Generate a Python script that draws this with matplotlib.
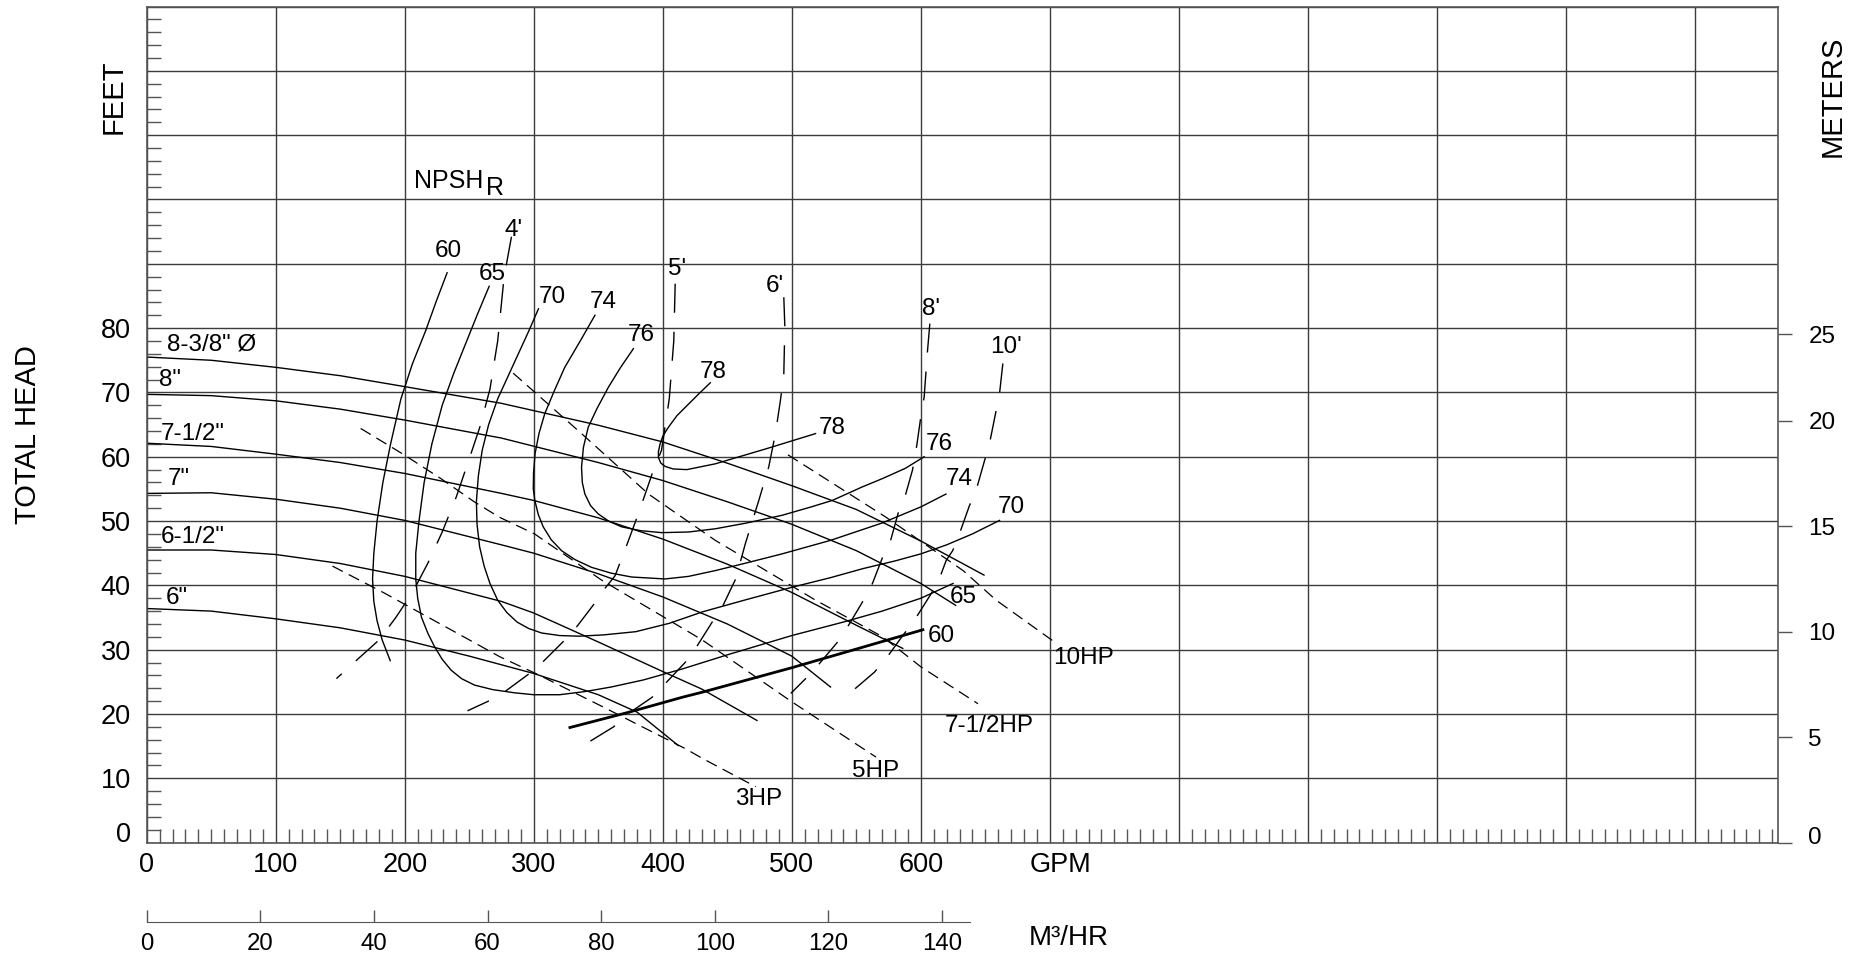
import numpy as np
import matplotlib.pyplot as plt
from matplotlib.ticker import MultipleLocator, FuncFormatter

plt.rcParams['font.family'] = ['Liberation Sans', 'DejaVu Sans']
plt.rcParams['lines.scale_dashes'] = False

# --- impeller head curves (GPM, feet) ---
d838_q = [0, 50, 100, 150, 200, 275, 350, 400, 450, 500, 550, 600, 649]
d838_h = [75.5, 75.0, 73.9, 72.6, 70.9, 68.3, 64.9, 62.3, 59.0, 55.5, 51.8, 46.9, 41.6]
d8_q = [0, 50, 100, 150, 200, 275, 350, 400, 450, 500, 550, 600, 627]
d8_h = [69.7, 69.5, 68.7, 67.4, 65.7, 62.9, 59.1, 56.3, 53.0, 49.5, 45.4, 40.3, 36.9]
d712_q = [0, 50, 100, 150, 200, 275, 300, 350, 400, 450, 500, 550, 586]
d712_h = [62.1, 61.6, 60.4, 59.1, 57.4, 54.3, 53.2, 50.5, 47.2, 43.3, 38.9, 33.8, 30.2]
d7_q = [0, 50, 100, 150, 200, 275, 300, 350, 400, 450, 500, 530]
d7_h = [54.3, 54.4, 53.4, 52.0, 50.1, 46.3, 45.0, 41.8, 38.2, 34.0, 29.0, 24.2]
d612_q = [0, 50, 100, 150, 200, 275, 300, 350, 400, 430, 473]
d612_h = [45.5, 45.5, 44.8, 43.4, 41.4, 37.5, 35.7, 31.2, 26.6, 23.9, 19.0]
d6_q = [0, 50, 100, 150, 200, 250, 300, 350, 380, 412]
d6_h = [36.4, 36.0, 34.8, 33.4, 31.5, 29.0, 26.3, 23.0, 20.3, 15.1]

head_labels = ['8-3/8" Ø', '8"', '7-1/2"', '7"', '6-1/2"', '6"']
head_label_x = [15.5, 9.8, 10.9, 16, 10.9, 15]
head_label_y = [77.4, 71.9, 63.6, 56.6, 47.6, 38.1]

# --- efficiency contours (%) ---
e60a_q = [232.8, 225, 216, 206, 197, 189, 183, 178.5, 176, 175, 176, 178.5, 182.5, 188.7]
e60a_h = [88.6, 84.5, 79.5, 74.5, 69.0, 62.0, 56.0, 50.0, 45.0, 41.0, 37.5, 34.5, 31.5, 28.3]
e60b_q = [328, 372.2, 415, 430.7, 500, 550, 601.6]
e60b_h = [17.9, 20.2, 22.6, 23.4, 27.2, 30.1, 33.1]
e65_q = [265.4, 256, 247, 238, 229, 221, 215, 211, 208.5, 208.5, 210, 213, 218, 223, 229,
         236, 244, 254, 268, 285, 300, 320, 340, 360, 385, 415, 450, 500, 540, 570, 600, 625]
e65_h = [86.5, 82.0, 77.5, 73.0, 68.0, 62.0, 56.0, 50.0, 45.0, 41.0, 38.0, 35.0, 32.5, 30.5, 28.5,
         26.8, 25.5, 24.5, 23.8, 23.3, 23.0, 23.0, 23.5, 24.2, 25.3, 27.0, 29.2, 32.2, 34.3, 36.0,
         38.0, 40.3]
e70_q = [303.6, 296, 288, 280, 272, 265, 260, 257, 255.5, 256, 258, 261.5, 266, 272, 279, 287,
         296, 306, 320, 335, 354, 379, 405, 431, 465, 500, 530, 555, 580, 600, 620, 640, 661]
e70_h = [83.0, 79.5, 76.0, 72.5, 69.0, 65.0, 61.0, 57.0, 53.0, 49.5, 46.0, 43.0, 40.3, 37.7, 35.8,
         34.3, 33.3, 32.6, 32.2, 32.1, 32.3, 32.8, 34.1, 35.9, 37.8, 39.7, 41.2, 42.6, 43.8, 44.9,
         46.3, 48.0, 50.1]
e74_q = [347.4, 336, 324, 316, 308.5, 304, 301, 299.8, 299.6, 300.8, 303.5, 307.3, 313.5, 321.5,
         332, 344.8, 360, 375.9, 401.8, 420, 440.7, 465, 492.5, 530, 570, 600, 619.5]
e74_h = [82.0, 78.0, 73.9, 70.3, 66.7, 63.6, 60.5, 57.5, 55.0, 53.2, 51.0, 49.1, 47.1, 45.4,
         44.0, 42.8, 41.9, 41.3, 41.0, 41.4, 42.3, 43.5, 44.9, 47.0, 49.7, 52.2, 54.2]
e76_q = [377.2, 367, 357.8, 349, 342.2, 338.5, 337, 337.6, 339.6, 344, 350, 358, 368.1, 383,
         399.2, 420, 440.7, 465, 492.5, 515, 531.3, 554.5, 570.2, 588, 602.6]
e76_h = [76.8, 73.8, 70.8, 67.5, 64.6, 61.5, 58.4, 56.0, 54.2, 52.4, 51.1, 50.0, 49.1, 48.5,
         48.2, 48.3, 48.8, 49.7, 50.9, 52.2, 53.2, 55.3, 56.6, 58.2, 60.0]
e78_q = [436.8, 428, 420, 411, 404.4, 400, 397.9, 396.6, 396.6, 398.5, 401.8, 408, 418.7, 440.7,
         479.5, 518.4]
e78_h = [71.5, 69.8, 68.2, 66.4, 64.6, 63.2, 62.0, 60.8, 59.9, 59.0, 58.5, 58.1, 58.0, 58.9,
         61.2, 63.6]

eff_labels = ['60', '65', '70', '74', '76', '78', '78', '76', '74', '70', '65', '60']
eff_label_x = [234, 268, 314, 354, 383, 439, 531, 614.3, 629.9, 670, 632.6, 615.8]
eff_label_y = [92, 88.4, 84.9, 84, 79, 73.2, 64.4, 62, 56.6, 52.2, 38.2, 32.2]

# --- NPSH required (feet) ---
n4_q = [282.7, 277, 272, 266, 258, 250, 240, 229, 218, 206, 193, 180, 165, 147]
n4_h = [94.2, 88.0, 78.0, 70.5, 64.5, 59.7, 53.8, 48.3, 43.5, 38.9, 35.0, 31.5, 28.8, 25.5]
n5_q = [409.6, 408.5, 405, 399, 392, 386, 381, 372.5, 363, 355, 349, 333, 325, 307, 298,
        277, 267, 248.6]
n5_h = [86.9, 78.0, 69.0, 61.0, 57.5, 54.0, 51.1, 46.5, 41.5, 39.5, 37.7, 33.5, 31.7, 28.1,
        26.5, 23.4, 22.2, 20.5]
n6_q = [493.8, 494.6, 493.8, 491.2, 487.3, 482.1, 474.4, 464, 456.5, 446, 438.3, 425.4,
        417.7, 400.8, 391.7, 373.5, 361.8, 342.3]
n6_h = [84.8, 80.2, 72.9, 68.8, 63.6, 58.4, 53.2, 46.5, 41.0, 36.6, 34.3, 30.2,
        28.1, 24.5, 22.6, 20.1, 18.0, 15.6]
n8_q = [607, 605.2, 602.6, 600, 596.9, 593.5, 588.3, 583.1, 576.6, 571.4, 562.5, 556.2,
        544.6, 536.8, 521.2, 512.2, 499.2]
n8_h = [80.7, 76.5, 69.3, 66.2, 61.8, 57.9, 54.2, 51.7, 47.0, 44.9, 40.3, 37.9,
        34.0, 31.5, 27.8, 25.8, 23.2]
n10_q = [663.6, 661, 658.4, 653.2, 649.4, 642.9, 637.7, 629.9, 624.7, 619.7, 614.3, 608,
         595.1, 586, 573, 564, 545.9]
n10_h = [74.5, 69.8, 67.2, 62.0, 59.4, 54.8, 52.4, 48.0, 45.4, 43.9, 41.0, 38.7,
         34.6, 32.2, 28.6, 26.5, 23.4]

npsh_labels = ["4'", "5'", "6'", "8'", "10'"]
npsh_label_x = [284, 411, 487, 608, 666]
npsh_label_y = [95.2, 89.2, 86.6, 83, 77]

# --- horsepower lines ---
hp3_q = [143.9, 184.2, 214, 243.9, 273.7, 303.6, 353.7, 417.6, 430.7, 472]
hp3_h = [43.0, 38.8, 35.5, 32.2, 28.9, 26.1, 21.1, 14.6, 13.1, 8.7]
hp5_q = [165.8, 199.5, 228, 253.8, 273.3, 300.6, 352.7, 404.7, 430.7, 500, 565.3]
hp5_h = [64.4, 60.3, 56.6, 53.0, 50.6, 48.0, 40.8, 34.6, 31.5, 21.9, 13.3]
hp75_q = [284, 337, 388.9, 440.7, 492.5, 518.4, 570.5, 600.3, 644.3]
hp75_h = [73.0, 63.6, 54.2, 47.0, 40.8, 37.7, 32.0, 27.3, 21.6]
hp10_q = [497, 573, 632.8, 658.4, 705]
hp10_h = [60.3, 50.6, 42.3, 37.7, 31.0]

hp_labels = ['3HP', '5HP', '7-1/2HP', '10HP']
hp_label_x = [474.6, 565, 653, 726]
hp_label_y = [6.8, 11.2, 18.2, 28.7]

# secondary scales
meter_ticks = [0, 5, 10, 15, 20, 24.1]
meter_labels = ['', '5', '10', '15', '20', '25']
m3hr_ticks = [0, 20, 40, 60, 80, 100, 120, 140]

FT_PER_M = 3.2808
GPM_PER_M3HR = 4.4029
GRID = '#3c3c3c'
AXC = '#555555'

fig = plt.figure(figsize=(18.51, 9.58), dpi=100)
ax = fig.add_axes([0.0793, 0.1204, 0.8815, 0.8728])
ax.set_xlim(0, 1264.8)
ax.set_ylim(0, 130)

ax.xaxis.set_major_locator(MultipleLocator(100))
ax.yaxis.set_major_locator(MultipleLocator(10))
ax.xaxis.set_minor_locator(MultipleLocator(10))
ax.yaxis.set_minor_locator(MultipleLocator(2))
ax.xaxis.set_major_formatter(FuncFormatter(lambda v, p: f'{v:.0f}' if v <= 600 else ''))
ax.yaxis.set_major_formatter(FuncFormatter(lambda v, p: f'{v:.0f}' if 0 < v <= 80 else ''))
ax.tick_params(which='major', length=0, labelsize=19.5)
ax.tick_params(axis='x', which='major', pad=7)
ax.tick_params(axis='y', which='major', pad=11.5)
ax.tick_params(which='minor', direction='in', length=10, width=1, color=AXC)
ax.grid(True, which='major', color=GRID, lw=1.0)
ax.set_axisbelow(True)
for s in ax.spines.values():
    s.set_color(AXC)
    s.set_linewidth(1.2)

# 0 labels sit a little above the axis
ax.annotate('0', xy=(0, 0), xytext=(-11.5, 5.3), textcoords='offset points',
            ha='right', va='center', fontsize=19.5)
ax.annotate('GPM', xy=(708, 0), xytext=(0, -7), textcoords='offset points',
            ha='center', va='top', fontsize=19.5)

# meters on the right
sec_y = ax.secondary_yaxis('right', functions=(lambda f: f / FT_PER_M, lambda m: m * FT_PER_M))
sec_y.set_ticks(meter_ticks, labels=meter_labels)
sec_y.tick_params(direction='out', length=10, width=1, labelsize=17.5, pad=11.5, color=AXC)
sec_y.spines['right'].set_visible(False)
ax.annotate('0', xy=(1264.8, 0), xytext=(21.5, 3.6), textcoords='offset points',
            ha='left', va='center', fontsize=17.5)

# m3/hr scale underneath
sec_x = ax.secondary_xaxis(-0.0948, functions=(lambda q: q / GPM_PER_M3HR, lambda m: m * GPM_PER_M3HR))
sec_x.set_ticks(m3hr_ticks)
sec_x.tick_params(direction='in', length=8.6, width=1, labelsize=17.3, pad=8, color=AXC)
sec_x.spines['bottom'].set_bounds(0, 145)
sec_x.spines['bottom'].set_color(AXC)

# head curves
for q, h in [(d838_q, d838_h), (d8_q, d8_h), (d712_q, d712_h),
             (d7_q, d7_h), (d612_q, d612_h), (d6_q, d6_h)]:
    ax.plot(q, h, color='k', lw=1.0)
for t, x, y in zip(head_labels, head_label_x, head_label_y):
    ax.text(x, y, t, ha='left', va='center', fontsize=17.5)

# efficiency
for q, h in [(e60a_q, e60a_h), (e65_q, e65_h), (e70_q, e70_h),
             (e74_q, e74_h), (e76_q, e76_h), (e78_q, e78_h)]:
    ax.plot(q, h, color='k', lw=1.0)
ax.plot(e60b_q, e60b_h, color='k', lw=2.0)
for t, x, y in zip(eff_labels, eff_label_x, eff_label_y):
    ax.text(x, y, t, ha='center', va='center', fontsize=17.5)

# NPSH
for q, h in [(n4_q, n4_h), (n5_q, n5_h), (n6_q, n6_h), (n8_q, n8_h), (n10_q, n10_h)]:
    ax.plot(q, h, color='k', lw=1.0, dashes=(20.9, 13.7))
for t, x, y in zip(npsh_labels, npsh_label_x, npsh_label_y):
    ax.text(x, y, t, ha='center', va='center', fontsize=17.5)
ax.text(206.8, 101.8, 'NPSH', ha='left', va='baseline', fontsize=18)
ax.text(262.6, 100.75, 'R', ha='left', va='baseline', fontsize=18)

# horsepower
for q, h in [(hp3_q, hp3_h), (hp5_q, hp5_h), (hp75_q, hp75_h), (hp10_q, hp10_h)]:
    ax.plot(q, h, color='k', lw=0.9, dashes=(8.4, 4.8))
for t, x, y in zip(hp_labels, hp_label_x, hp_label_y):
    ax.text(x, y, t, ha='center', va='center', fontsize=17.5)

# axis titles
fig.text(113.5 / 1851, 1 - 96.7 / 958, 'FEET', rotation=90, ha='center', va='center', fontsize=21)
fig.text(28 / 1851, 1 - 435 / 958, 'TOTAL HEAD', rotation=90, ha='center', va='center', fontsize=21)
fig.text(1833 / 1851, 1 - 96 / 958, 'METERS', rotation=90, ha='center', va='center', fontsize=21)
fig.text(1029 / 1851, 1 - 938 / 958, 'M³/HR', ha='left', va='center', fontsize=20)

fig.savefig('out.png', dpi=100)
